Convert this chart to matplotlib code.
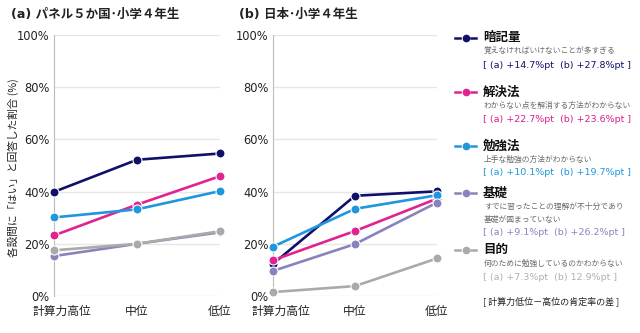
import matplotlib
matplotlib.use("Agg")
import matplotlib.pyplot as plt
from matplotlib.lines import Line2D

plt.rcParams["font.family"] = ["DejaVu Sans", "Noto Sans CJK JP"]
CJK = ["Noto Sans CJK JP", "DejaVu Sans"]

CATEGORIES = ["計算力高位", "中位", "低位"]
YTICKS = [0, 20, 40, 60, 80, 100]

SERIES = ["暗記量", "解決法", "勉強法", "基礎", "目的"]
COLORS = ["#10106a", "#e0238f", "#2196dc", "#8784bd", "#aaaaaa"]
TEXT_COLORS = ["#10106a", "#d91f8a", "#2196dc", "#8784bd", "#b0b0b0"]

PANEL_A = [
    [39.9, 52.2, 54.6],
    [23.2, 35.0, 45.9],
    [30.1, 33.2, 40.2],
    [15.3, 20.0, 24.4],
    [17.5, 20.0, 24.8],
]
PANEL_B = [
    [12.3, 38.4, 40.1],
    [13.7, 24.9, 37.3],
    [18.9, 33.4, 38.6],
    [9.6, 19.9, 35.8],
    [1.5, 3.8, 14.4],
]

SUBTITLES = [
    ["覚えなければいけないことが多すぎる"],
    ["わからない点を解消する方法がわからない"],
    ["上手な勉強の方法がわからない"],
    ["すでに習ったことの理解が不十分であり", "基礎が固まっていない"],
    ["何のために勉強しているのかわからない"],
]
DIFFS = [
    "[ (a) +14.7%pt  (b) +27.8%pt ]",
    "[ (a) +22.7%pt  (b) +23.6%pt ]",
    "[ (a) +10.1%pt  (b) +19.7%pt ]",
    "[ (a) +9.1%pt  (b) +26.2%pt ]",
    "[ (a) +7.3%pt  (b) 12.9%pt ]",
]

W, H = 640, 333


def fx(px):
    return px / W


def fy(py):
    return 1 - py / H


def style_axis(ax):
    ax.set_xlim(0, 2)
    ax.set_ylim(0, 100)
    ax.set_yticks(YTICKS, [f"{v}%" for v in YTICKS], fontsize=8.3, color="#222222")
    ax.set_xticks(range(3), [""] * 3)
    # category labels; the first one is nudged right like in the source
    for i, label in enumerate(CATEGORIES):
        dx = 6 if i == 0 else 0
        ax.annotate(label, xy=(i, 0), xycoords=("data", "axes fraction"),
                    xytext=(dx, -11), textcoords="offset points", ha="center",
                    va="center", fontsize=8.5, color="#222222", family=CJK,
                    annotation_clip=False)
    ax.tick_params(axis="y", length=0, pad=3)
    ax.tick_params(axis="x", length=0)
    ax.grid(axis="y", color="#e6e6e6", linewidth=1)
    ax.set_axisbelow(True)
    for side in ["top", "right", "bottom"]:
        ax.spines[side].set_visible(False)
    ax.spines["left"].set_color("#bbbbbb")


def draw_panel(ax, data):
    x = range(3)
    for vals, color in zip(data, COLORS):
        ax.plot(x, vals, color=color, linewidth=1.9, marker="o", markersize=6.5,
                markeredgecolor="white", markeredgewidth=0.8, clip_on=False, zorder=3)
    style_axis(ax)


fig = plt.figure(figsize=(6.4, 3.33), dpi=100)
ax_a = fig.add_axes([fx(54), fy(296), fx(220 - 54), (296 - 35) / H])
ax_b = fig.add_axes([fx(273), fy(296), fx(437 - 273), (296 - 35) / H])
draw_panel(ax_a, PANEL_A)
draw_panel(ax_b, PANEL_B)

fig.text(fx(11), fy(14), "(a) パネル５か国･小学４年生", fontsize=9, fontweight="bold",
         va="center", ha="left", color="#222222")
fig.text(fx(239), fy(14), "(b) 日本･小学４年生", fontsize=9, fontweight="bold",
         va="center", ha="left", color="#222222")
fig.text(fx(13), fy(168), "各設問に「はい」と回答した割合 (%)", fontsize=7.7, rotation=90,
         va="center", ha="center", color="#222222", family=CJK)

# legend block
title_y = [38, 92, 146, 193, 250]
for i, name in enumerate(SERIES):
    y0 = title_y[i]
    fig.add_artist(Line2D([fx(455), fx(460)], [fy(y0), fy(y0)], color=COLORS[i], linewidth=1.8))
    fig.add_artist(Line2D([fx(471), fx(476)], [fy(y0), fy(y0)], color=COLORS[i], linewidth=1.8))
    fig.add_artist(Line2D([fx(465.5)], [fy(y0)], color=COLORS[i], marker="o", markersize=4.5,
                          linestyle="none"))
    fig.text(fx(483), fy(y0), name, fontsize=9, fontweight="bold", va="center",
             ha="left", color="#111111", family=CJK)
    sub_y = y0 + 14
    for line in SUBTITLES[i]:
        fig.text(fx(484), fy(sub_y), line, fontsize=5.6, va="center", ha="left",
                 color="#6a6a6a", family=CJK)
        sub_y += 12.5
    diff_y = sub_y + 0.5
    fig.text(fx(483), fy(diff_y), DIFFS[i], fontsize=6.8, va="center", ha="left",
             color=TEXT_COLORS[i])

fig.text(fx(483), fy(301), "[ 計算力低位－高位の肯定率の差 ]", fontsize=6.5, va="center",
         ha="left", color="#222222", family=CJK)

fig.savefig("out.png", dpi=100)
